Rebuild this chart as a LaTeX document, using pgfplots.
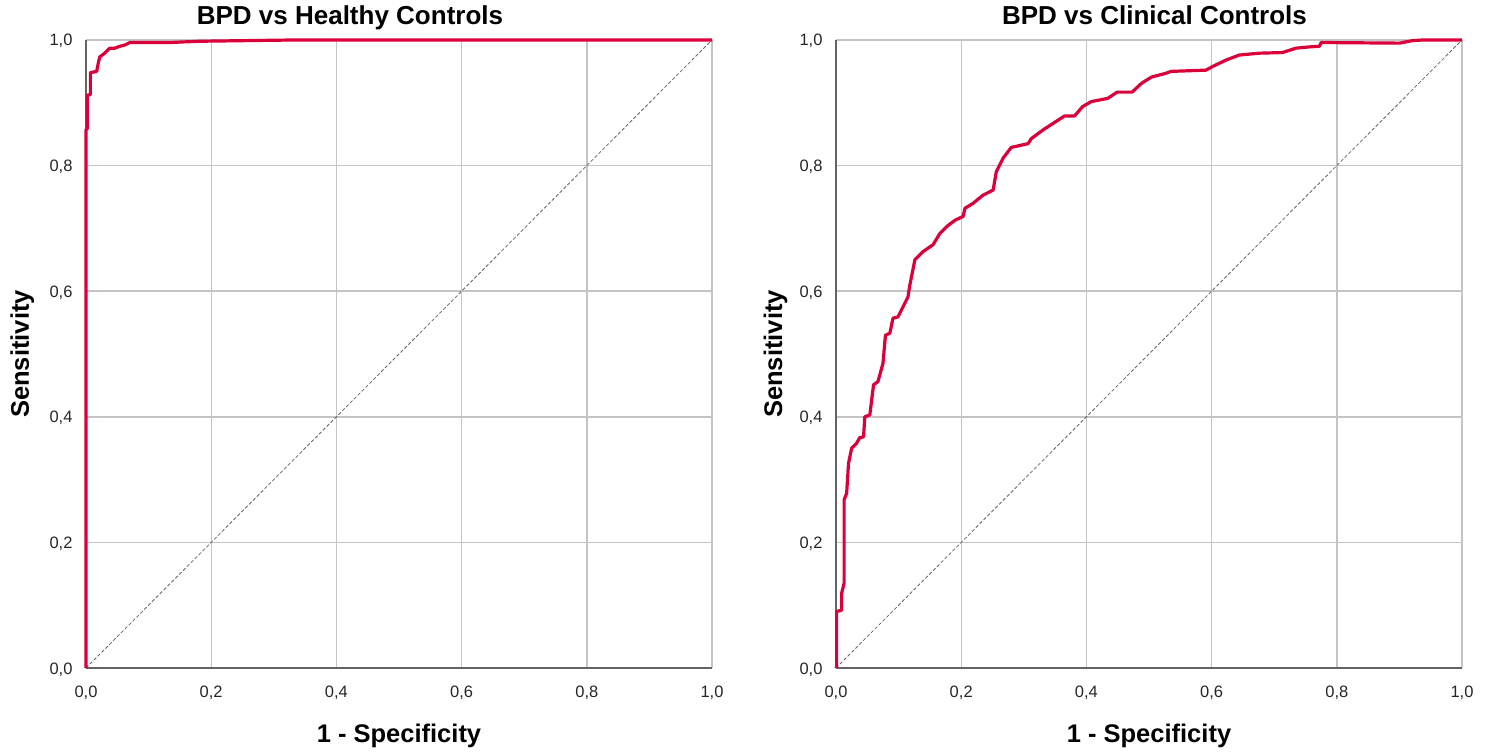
\documentclass[border=0pt]{standalone}
\usepackage{fontspec}
\setmainfont{Liberation Sans}
\usepackage{pgfplots}
\pgfplotsset{compat=1.18}
\definecolor{roc}{RGB}{218,0,58}
\definecolor{gridg}{RGB}{196,196,196}
\definecolor{axisg}{RGB}{100,100,100}

\pgfplotsset{
  rocax/.style={
    scale only axis, width=626pt, height=628pt,
    xmin=0, xmax=1, ymin=0, ymax=1,
    xtick={0,0.2,0.4,0.6,0.8,1}, ytick={0,0.2,0.4,0.6,0.8,1},
    axis x line=bottom, axis y line=left,
    axis line style={axisg, line width=1.4pt, -},
    major tick length=0pt,
    grid=major, major grid style={gridg, line width=1.4pt},
    /pgf/number format/.cd, fixed, fixed zerofill, precision=1, use comma, assume math mode=true,
    /pgfplots/.cd,
    ticklabel style={font=\fontsize{16.5}{18}\selectfont, text=black!85},
    xticklabel style={anchor=base, yshift=-29pt},
    yticklabel style={anchor=base east, xshift=-10pt, yshift=-6pt},
    title style={font=\bfseries\fontsize{26}{28}\selectfont, anchor=base},
    xlabel style={font=\bfseries\fontsize{25.5}{28}\selectfont, at={(axis description cs:0.5,-0.1194)}, anchor=base},
    ylabel style={font=\bfseries\fontsize{25.5}{28}\selectfont, anchor=base},
    xlabel={1 - Specificity}, ylabel={Sensitivity},
    clip=false,
  },
  curve/.style={roc, line width=3.2pt, line join=round},
  diag/.style={black!60, line width=0.8pt, dash pattern=on 3.5pt off 2pt},
}

\begin{document}
\begin{tikzpicture}
\useasboundingbox (-86pt,-85pt) rectangle (1408pt,668pt);

\begin{axis}[rocax, title={BPD vs Healthy Controls},
  title style={at={(axis description cs:0.4217,1.0159)}},
  ylabel style={at={(axis description cs:-0.0911,0.5)}}]
\addplot[diag] coordinates {(0,0) (1,1)};
\addplot[curve] coordinates {
(0,0) (0,0.857) (0.002,0.859) (0.002,0.912) (0.007,0.913) (0.007,0.948)
(0.017,0.950) (0.020,0.965) (0.022,0.973) (0.030,0.979) (0.038,0.987)
(0.046,0.987) (0.054,0.990) (0.062,0.992) (0.070,0.996) (0.134,0.996)
(0.182,0.998) (0.33,1.0) (1,1)
};
\end{axis}

\begin{axis}[rocax, at={(750pt,0pt)}, title={BPD vs Clinical Controls},
  title style={at={(axis description cs:0.5088,1.0159)}},
  ylabel style={at={(axis description cs:-0.0861,0.5)}}]
\addplot[diag] coordinates {(0,0) (1,1)};
\addplot[curve] coordinates {
(0,0) (0.001,0.002) (0.001,0.090) (0.009,0.092) (0.009,0.119) (0.013,0.135)
(0.013,0.268) (0.017,0.278) (0.020,0.326) (0.025,0.350) (0.033,0.358)
(0.038,0.367) (0.044,0.368) (0.046,0.400) (0.054,0.403) (0.057,0.427)
(0.060,0.451) (0.067,0.456) (0.075,0.485) (0.079,0.530) (0.086,0.533)
(0.091,0.557) (0.099,0.559) (0.115,0.591) (0.118,0.610) (0.126,0.650)
(0.139,0.663) (0.155,0.674) (0.166,0.692) (0.177,0.703) (0.190,0.713)
(0.203,0.719) (0.206,0.732) (0.219,0.740) (0.235,0.753) (0.251,0.761)
(0.256,0.790) (0.267,0.812) (0.280,0.829) (0.307,0.835) (0.312,0.843)
(0.331,0.857) (0.365,0.879) (0.381,0.879) (0.394,0.894) (0.408,0.902)
(0.434,0.907) (0.449,0.917) (0.473,0.917) (0.488,0.931) (0.504,0.941)
(0.527,0.947) (0.535,0.950) (0.591,0.952) (0.602,0.958) (0.623,0.968)
(0.644,0.976) (0.676,0.979) (0.713,0.980) (0.735,0.987) (0.756,0.989)
(0.772,0.990) (0.775,0.996) (0.900,0.995) (0.921,0.999) (0.937,1.0) (1,1)
};
\end{axis}
\end{tikzpicture}
\end{document}
